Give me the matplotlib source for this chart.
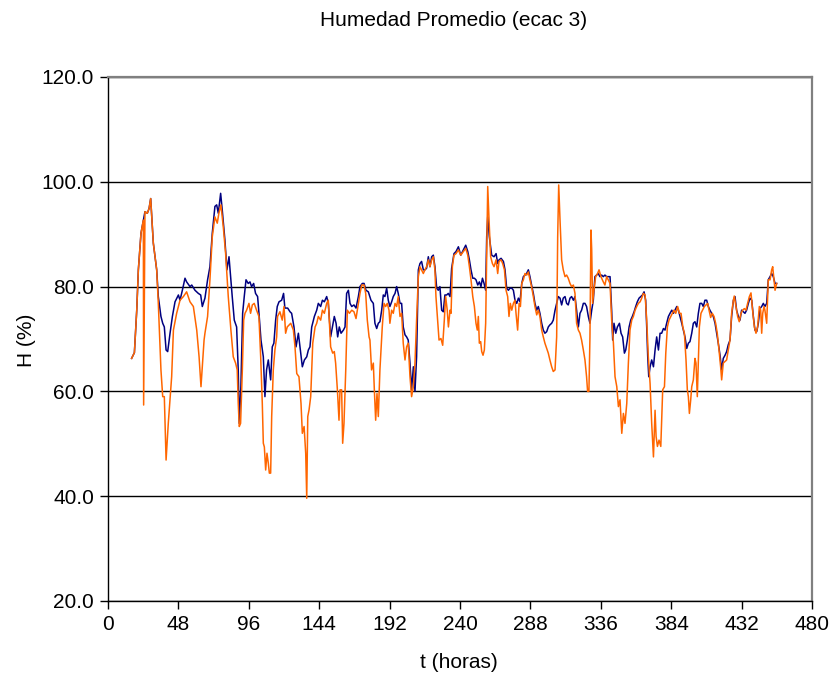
import matplotlib
matplotlib.use('Agg')
import matplotlib.pyplot as plt
from matplotlib.ticker import FormatStrFormatter

t_azul = [16.1, 18.0, 19.6, 20.7, 22.5, 24.1, 25.2, 26.8, 28.0, 29.1, 30.9, 33.2,
          34.3, 36.1, 37.3, 38.4, 39.6, 40.7, 42.3, 43.9, 45.7, 48.0, 49.1, 50.7,
          52.5, 53.6, 55.9, 57.1, 59.3, 61.6, 63.2, 64.3, 66.1, 67.9, 69.5, 71.1,
          72.9, 74.1, 75.2, 76.8, 77.9, 79.7, 81.1, 82.5, 83.4, 84.7, 86.1, 87.7,
          88.8, 89.5, 90.6, 91.8, 92.9, 94.1, 95.6, 96.8, 97.9, 99.3, 100.6, 102.0,
          103.1, 104.3, 105.9, 107.0, 108.1, 109.3, 110.9, 112.0, 113.1, 114.3, 115.4, 116.6,
          118.4, 119.7, 120.6, 122.5, 124.1, 125.2, 126.8, 128.2, 129.8, 130.9, 132.5, 133.9,
          135.5, 136.6, 137.7, 138.9, 140.7, 142.3, 143.4, 145.0, 146.2, 147.5, 149.1, 150.2,
          151.8, 153.0, 154.3, 155.5, 156.6, 157.7, 158.9, 160.5, 161.6, 162.7, 163.9, 165.0,
          166.2, 167.7, 169.1, 170.7, 171.8, 173.4, 174.6, 175.9, 177.5, 179.3, 180.9, 182.0,
          183.2, 184.3, 185.4, 186.6, 187.7, 188.8, 190.0, 191.1, 192.2, 193.4, 194.5, 195.7,
          196.8, 197.9, 199.1, 200.2, 201.3, 202.5, 203.6, 204.7, 205.9, 207.0, 208.2, 209.3,
          210.4, 211.6, 212.7, 213.8, 215.0, 216.1, 217.2, 218.4, 219.5, 220.7, 221.8, 222.9,
          224.1, 225.2, 226.3, 227.5, 228.6, 229.7, 230.9, 232.0, 233.2, 234.3, 235.9, 237.3,
          238.9, 240.5, 242.3, 243.9, 245.3, 246.4, 247.5, 248.7, 249.8, 250.9, 252.1, 253.2,
          254.3, 255.3, 256.4, 257.5, 258.2, 258.9, 260.0, 261.6, 263.2, 264.6, 265.7, 266.6,
          268.0, 269.6, 270.7, 271.8, 273.0, 274.1, 275.3, 276.4, 277.5, 278.7, 279.8, 280.9,
          282.1, 283.2, 284.3, 285.4, 286.6, 287.7, 288.8, 290.0, 291.1, 292.3, 293.4, 294.5,
          295.7, 296.8, 297.9, 299.1, 300.2, 301.3, 302.5, 303.6, 304.8, 305.9, 307.0, 308.2,
          309.3, 310.4, 311.6, 312.7, 313.8, 315.0, 316.1, 317.3, 318.4, 319.5, 320.7, 321.8,
          322.9, 324.1, 325.2, 326.3, 327.5, 328.6, 329.8, 330.9, 332.0, 333.2, 334.3, 335.4,
          336.6, 337.7, 338.8, 340.0, 341.2, 342.3, 343.4, 344.1, 345.0, 346.2, 347.3, 348.7,
          349.8, 350.9, 352.1, 353.0, 354.1, 355.3, 356.4, 357.5, 358.7, 359.8, 360.9, 362.1,
          363.2, 364.4, 365.5, 366.6, 367.3, 368.0, 368.7, 369.6, 370.7, 371.9, 373.0, 374.1,
          375.3, 376.4, 377.5, 378.7, 379.8, 380.9, 382.1, 383.2, 384.4, 385.5, 386.6, 387.8,
          388.9, 390.0, 391.2, 392.3, 393.4, 394.6, 395.7, 396.8, 398.0, 399.1, 400.2, 401.4,
          402.5, 403.6, 404.8, 405.9, 407.0, 408.2, 409.3, 410.4, 411.6, 412.7, 413.9, 415.0,
          416.1, 417.3, 418.4, 419.5, 420.7, 421.8, 422.9, 424.1, 425.2, 426.4, 427.5, 428.6,
          429.8, 430.9, 432.0, 433.2, 434.3, 435.4, 436.6, 437.7, 438.9, 440.0, 441.1, 442.3,
          443.4, 444.5, 445.7, 446.8, 447.9, 449.1, 450.2, 451.4, 452.5, 453.6, 454.8, 455.9]
h_azul = [66.3, 67.4, 75.5, 83.2, 90.2, 92.7, 94.3, 94.0, 94.9, 96.8, 88.3, 83.2,
          78.1, 74.3, 73.0, 72.3, 67.9, 67.6, 71.1, 74.3, 77.1, 78.4, 77.4, 79.3,
          81.6, 80.9, 80.0, 80.3, 79.3, 78.7, 78.4, 76.2, 77.8, 81.3, 83.8, 90.2,
          95.3, 95.6, 94.0, 97.8, 94.6, 88.9, 83.2, 85.7, 82.5, 78.1, 73.6, 72.3,
          64.1, 53.9, 60.9, 74.9, 78.1, 81.3, 80.6, 80.9, 80.0, 80.6, 78.7, 78.1,
          74.3, 69.8, 66.6, 59.0, 64.1, 66.0, 62.2, 68.5, 69.2, 73.6, 76.2, 77.1,
          77.4, 78.7, 75.9, 75.9, 75.2, 74.9, 72.3, 68.5, 71.1, 68.5, 64.7, 66.0,
          66.6, 67.9, 68.5, 72.3, 74.3, 75.5, 76.8, 76.2, 77.4, 77.1, 78.1, 76.8,
          70.4, 72.3, 74.3, 73.0, 70.4, 72.3, 71.1, 71.7, 72.3, 78.7, 79.3, 76.8,
          76.2, 76.5, 75.9, 78.1, 80.0, 80.6, 80.6, 79.3, 79.0, 77.4, 76.8, 73.0,
          72.0, 73.0, 73.3, 75.5, 78.4, 78.1, 79.7, 77.4, 76.2, 77.1, 78.1, 78.7,
          80.0, 78.7, 76.8, 76.8, 72.3, 70.8, 70.4, 69.8, 65.4, 60.3, 64.7, 60.0,
          66.6, 83.2, 84.4, 84.8, 83.2, 83.2, 83.5, 85.7, 83.8, 85.7, 86.0, 83.8,
          79.7, 79.3, 80.0, 75.5, 75.2, 78.4, 78.4, 78.7, 78.1, 83.5, 86.3, 86.7,
          87.6, 86.0, 87.0, 87.9, 86.7, 85.1, 83.2, 81.6, 81.6, 81.3, 80.3, 80.9,
          80.0, 81.6, 80.6, 79.3, 89.5, 93.3, 89.5, 86.0, 85.7, 86.3, 84.4, 85.1,
          85.4, 84.8, 83.2, 79.7, 79.3, 79.7, 79.7, 79.3, 77.4, 76.8, 77.8, 77.1,
          80.6, 81.9, 82.2, 82.5, 83.2, 81.9, 80.3, 78.7, 76.8, 75.5, 76.2, 74.9,
          73.0, 71.7, 71.1, 71.4, 72.3, 72.7, 73.0, 73.6, 75.5, 76.8, 78.1, 77.8,
          76.5, 77.8, 78.1, 76.8, 76.5, 77.8, 78.1, 77.4, 78.1, 75.5, 72.3, 74.9,
          75.5, 76.8, 76.8, 76.2, 74.3, 73.0, 75.5, 77.4, 81.9, 82.2, 82.5, 81.9,
          82.2, 81.9, 82.2, 81.9, 81.9, 81.9, 75.5, 69.8, 73.0, 71.1, 72.3, 73.0,
          71.1, 70.4, 67.3, 67.9, 69.8, 72.3, 73.6, 74.3, 75.2, 76.2, 77.1, 77.8,
          78.1, 78.4, 79.0, 77.4, 72.3, 66.6, 62.8, 64.7, 66.0, 64.7, 67.9, 70.4,
          67.9, 71.1, 71.1, 72.0, 71.7, 73.0, 74.3, 74.9, 75.5, 74.9, 75.5, 76.2,
          75.5, 74.3, 73.0, 71.7, 70.4, 68.2, 69.2, 69.5, 71.1, 73.0, 73.3, 72.3,
          74.9, 76.8, 76.8, 76.2, 77.4, 77.4, 76.2, 75.5, 74.9, 74.3, 73.0, 71.1,
          69.2, 66.9, 64.1, 66.3, 66.9, 67.6, 68.9, 69.8, 74.3, 77.4, 78.1, 75.5,
          74.3, 73.6, 75.5, 75.2, 74.9, 75.5, 76.8, 77.8, 77.4, 74.3, 71.7, 71.4,
          73.0, 75.8, 76.2, 76.8, 76.2, 76.8, 81.3, 81.9, 82.5, 81.9, 80.6, 80.6]

t_naranja = [16.1, 18.0, 19.6, 20.7, 22.5, 24.1, 24.3, 25.2, 26.8, 28.0, 29.1, 30.9,
             33.2, 34.3, 36.1, 37.3, 38.4, 39.6, 41.1, 43.4, 44.6, 46.8, 49.1, 51.4,
             53.6, 55.9, 58.2, 60.5, 62.1, 63.4, 65.5, 66.1, 67.9, 69.5, 71.1, 72.9,
             74.5, 75.6, 77.0, 78.6, 80.2, 82.0, 83.8, 85.4, 87.0, 88.1, 88.8, 89.5,
             90.4, 91.6, 92.5, 93.4, 94.5, 96.1, 97.2, 98.4, 99.7, 101.3, 102.9, 104.1,
             105.2, 105.9, 106.6, 107.5, 108.4, 109.3, 110.0, 110.9, 111.6, 112.7, 113.8, 115.0,
             115.6, 117.2, 118.8, 120.0, 121.1, 122.2, 124.6, 126.4, 127.5, 128.7, 130.2, 131.6,
             132.5, 133.7, 134.8, 135.5, 136.2, 137.1, 138.2, 139.6, 141.2, 142.3, 143.4, 145.0,
             146.2, 147.5, 149.1, 150.2, 151.8, 153.2, 154.3, 155.2, 156.4, 157.5, 158.2, 159.3,
             160.0, 160.9, 162.1, 163.2, 164.6, 166.2, 167.7, 169.1, 170.7, 171.8, 173.0, 174.6,
             175.7, 176.8, 178.0, 178.6, 179.7, 180.9, 181.6, 182.5, 183.4, 184.3, 185.4, 187.0,
             188.2, 189.3, 190.4, 191.6, 192.2, 193.4, 194.5, 195.7, 196.8, 197.9, 199.1, 200.2,
             201.3, 202.5, 203.6, 204.7, 205.9, 207.0, 208.2, 209.3, 210.4, 211.6, 212.7, 213.8,
             215.0, 216.1, 217.2, 218.4, 219.5, 220.7, 221.8, 222.9, 223.6, 224.7, 225.7, 227.0,
             228.2, 229.3, 230.2, 231.3, 232.1, 233.2, 233.9, 234.8, 235.9, 237.3, 238.9, 240.5,
             242.3, 243.9, 245.3, 246.4, 247.5, 248.7, 249.8, 250.9, 251.8, 252.5, 253.2, 254.1,
             254.8, 255.7, 256.6, 257.5, 258.2, 258.9, 259.8, 260.9, 262.1, 263.2, 264.6, 265.7,
             266.6, 268.0, 269.1, 270.3, 271.4, 272.5, 273.4, 274.3, 275.3, 276.4, 277.5, 278.2,
             279.3, 280.3, 281.2, 282.1, 283.2, 284.3, 285.5, 286.6, 287.7, 288.8, 290.0, 291.1,
             292.3, 293.4, 294.5, 295.7, 296.8, 297.9, 299.1, 300.2, 301.3, 302.5, 303.6, 304.8,
             305.9, 306.6, 307.3, 308.2, 309.3, 310.4, 311.6, 312.7, 313.8, 315.0, 316.1, 317.3,
             318.4, 319.5, 320.7, 321.8, 322.9, 324.1, 325.2, 326.3, 327.0, 327.9, 328.6, 329.3,
             329.8, 330.4, 331.3, 332.5, 333.8, 334.8, 336.1, 337.7, 338.8, 340.0, 341.1, 342.3,
             343.4, 344.6, 345.7, 346.9, 348.0, 349.1, 350.3, 351.4, 352.5, 353.7, 354.8, 355.9,
             357.1, 358.2, 359.4, 360.5, 361.6, 362.8, 363.9, 365.0, 366.2, 367.3, 368.4, 369.6,
             370.7, 371.9, 373.0, 373.7, 374.6, 375.7, 376.9, 377.5, 378.2, 379.4, 380.3, 381.4,
             382.5, 383.7, 384.8, 385.9, 387.1, 388.4, 389.6, 390.7, 391.9, 393.0, 394.1, 395.0,
             395.7, 396.4, 397.3, 398.0, 399.1, 400.2, 400.9, 401.8, 402.5, 403.2, 404.3, 405.4,
             406.6, 407.7, 408.9, 409.8, 410.9, 412.0, 413.2, 414.3, 415.4, 416.6, 417.7, 418.4,
             419.5, 420.7, 421.8, 422.9, 424.1, 425.2, 426.4, 427.0, 428.2, 429.3, 430.4, 431.6,
             432.7, 433.9, 435.0, 436.1, 437.3, 438.4, 439.5, 440.7, 441.8, 442.9, 444.1, 445.0,
             445.7, 446.4, 447.3, 447.9, 449.1, 450.2, 451.4, 452.5, 453.2, 454.1, 454.8, 455.9]
h_naranja = [66.3, 67.4, 75.5, 83.2, 90.2, 92.7, 57.4, 94.3, 94.0, 94.9, 96.8, 88.3,
             83.2, 76.8, 64.1, 59.0, 59.0, 46.9, 53.9, 62.8, 71.7, 74.9, 77.4, 78.1,
             79.0, 77.1, 76.2, 71.7, 66.6, 60.9, 69.8, 71.1, 74.3, 81.3, 89.5, 93.3,
             92.1, 94.0, 95.6, 91.4, 86.3, 78.1, 71.7, 66.6, 65.4, 64.1, 57.7, 53.3,
             53.9, 64.1, 73.6, 74.9, 75.5, 76.8, 74.9, 76.5, 76.8, 75.5, 74.3, 66.6,
             57.7, 50.1, 49.4, 45.0, 48.2, 46.3, 44.4, 44.4, 55.2, 64.1, 67.9, 70.4,
             74.3, 75.2, 73.6, 76.2, 71.1, 72.3, 73.0, 71.7, 68.5, 63.4, 62.8, 57.7,
             52.0, 53.3, 48.2, 39.6, 55.2, 56.5, 59.0, 69.2, 72.3, 73.0, 74.3, 73.6,
             75.5, 74.9, 76.8, 77.4, 68.5, 67.3, 67.6, 65.4, 60.3, 54.5, 60.3, 60.3,
             50.1, 53.9, 64.1, 75.5, 74.9, 75.5, 75.2, 73.9, 76.8, 78.7, 80.3, 80.3,
             78.7, 73.6, 70.4, 69.8, 64.1, 65.4, 60.3, 54.5, 59.6, 55.2, 64.1, 72.3,
             76.8, 76.2, 76.8, 75.5, 73.0, 75.5, 74.9, 76.8, 76.2, 78.1, 74.3, 74.9,
             69.2, 66.0, 68.5, 69.2, 62.8, 59.0, 60.9, 65.4, 73.6, 81.9, 83.8, 83.2,
             82.5, 83.2, 83.8, 85.1, 83.8, 85.1, 85.7, 83.2, 78.1, 73.6, 69.8, 70.1,
             68.8, 73.6, 78.1, 75.5, 72.3, 75.5, 74.9, 83.8, 86.0, 86.3, 87.0, 86.0,
             86.7, 87.3, 86.0, 83.8, 81.3, 78.1, 76.2, 73.0, 71.7, 74.3, 69.2, 69.5,
             67.6, 66.9, 67.9, 73.0, 86.3, 99.1, 92.7, 85.7, 84.4, 83.8, 85.1, 82.5,
             84.8, 85.1, 84.4, 83.2, 79.3, 78.1, 74.3, 76.8, 75.5, 76.8, 77.4, 74.9,
             71.7, 76.8, 76.2, 80.6, 81.3, 82.5, 82.2, 82.8, 81.3, 80.0, 78.1, 76.2,
             74.6, 75.5, 74.3, 71.7, 70.4, 69.2, 68.2, 67.3, 66.0, 64.7, 63.8, 64.1,
             70.4, 89.5, 99.4, 92.7, 85.1, 83.2, 81.9, 82.2, 81.6, 80.6, 80.0, 80.3,
             78.7, 73.0, 71.7, 71.1, 69.8, 67.9, 66.0, 62.8, 60.0, 60.0, 70.4, 90.8,
             87.0, 76.8, 79.3, 81.9, 82.5, 83.2, 81.9, 80.9, 80.3, 81.9, 81.3, 80.6,
             73.6, 69.2, 62.8, 60.9, 57.1, 58.4, 52.0, 55.8, 53.9, 57.7, 65.4, 71.7,
             73.6, 74.3, 75.5, 76.2, 76.8, 77.1, 77.8, 78.7, 78.4, 73.6, 66.6, 61.5,
             53.9, 47.5, 56.4, 51.4, 49.5, 50.7, 49.5, 54.5, 60.3, 60.9, 67.3, 72.3,
             73.6, 74.3, 74.9, 75.5, 74.9, 76.2, 74.9, 74.9, 72.3, 71.1, 66.0, 60.3,
             59.0, 55.8, 58.4, 60.9, 62.2, 66.3, 65.4, 59.0, 65.4, 72.3, 74.9, 75.5,
             76.2, 76.5, 76.8, 75.5, 74.1, 74.9, 74.3, 73.0, 71.1, 67.9, 64.7, 62.2,
             65.4, 65.7, 66.0, 67.9, 69.8, 74.9, 77.4, 78.2, 76.2, 74.3, 73.3, 74.9,
             75.5, 75.8, 75.5, 76.8, 78.1, 78.8, 75.5, 72.3, 71.1, 72.3, 76.2, 75.5,
             71.1, 74.9, 76.2, 75.5, 73.0, 81.3, 81.3, 83.2, 83.8, 81.3, 79.3, 80.6]

x_ticks = list(range(0, 481, 48))
y_ticks = [20, 40, 60, 80, 100, 120]

plt.rcParams['font.family'] = ['Liberation Sans', 'DejaVu Sans']
plt.rcParams['font.size'] = 15

fig = plt.figure(figsize=(8.32, 6.77), dpi=100)
ax = fig.add_axes([108 / 832, 76 / 677, 704 / 832, 524 / 677])

ax.plot(t_azul, h_azul, color='#000080', lw=1.1)
ax.plot(t_naranja, h_naranja, color='#FF6600', lw=1.1)

ax.set_xlim(0, 480)
ax.set_ylim(20, 120)
ax.set_xticks(x_ticks)
ax.set_yticks(y_ticks)
ax.yaxis.set_major_formatter(FormatStrFormatter('%.1f'))
ax.grid(axis='y', color='black', lw=1)
ax.set_axisbelow(True)
ax.tick_params(direction='out', length=6, width=1, colors='black', pad=4)

for lado in ['top', 'right']:
    ax.spines[lado].set_color('#808080')
    ax.spines[lado].set_linewidth(1.6)
for lado in ['left', 'bottom']:
    ax.spines[lado].set_color('black')
    ax.spines[lado].set_linewidth(1)

fig.text(454 / 832, 1 - 21 / 677, 'Humedad Promedio (ecac 3)', ha='center', va='center')
fig.text(459 / 832, 1 - 662 / 677, 't (horas)', ha='center', va='center')
fig.text(26 / 832, 1 - 340 / 677, 'H (%)', ha='center', va='center', rotation=90)

plt.savefig('out.png', dpi=100)
